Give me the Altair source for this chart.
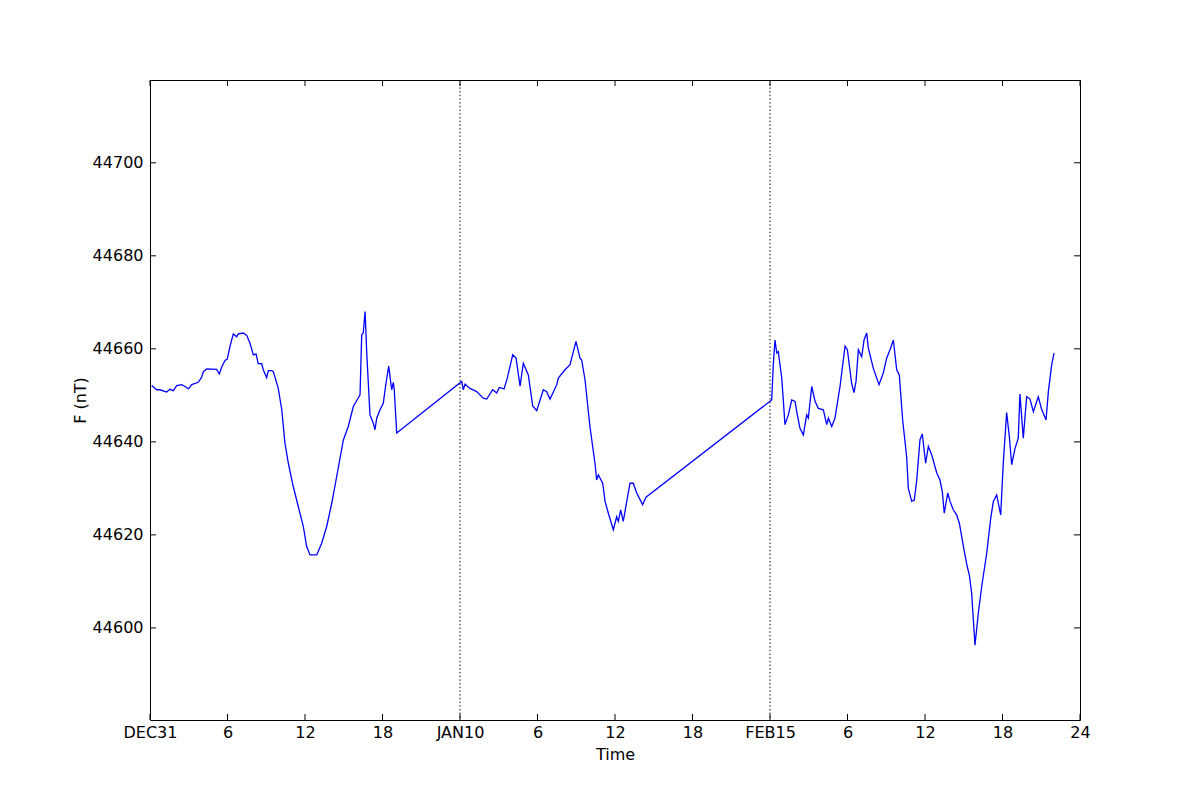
import altair as alt
import pandas as pd

# Hours since start of the plotted span (three 24 h windows) and total field F (nT)
hours = [
    0.13, 0.52, 0.77, 1.29, 1.55, 1.80, 2.07, 2.45, 2.71, 2.97, 3.23, 3.74, 4.00, 4.13, 4.39,
    5.16, 5.37, 5.55, 5.81, 5.98, 6.19, 6.45, 6.71, 6.84, 7.22, 7.49, 7.74, 8.00, 8.21, 8.38,
    8.65, 8.77, 9.03, 9.16, 9.42, 9.55, 9.93, 10.20, 10.45, 10.71, 11.09, 11.48, 11.87, 12.13,
    12.39, 12.91, 13.29, 13.68, 14.07, 14.45, 14.97, 15.35, 15.74, 16.26, 16.39, 16.51, 16.65,
    16.72, 16.78, 17.03, 17.29, 17.42, 17.55, 17.81, 18.06, 18.27, 18.48, 18.71, 18.84, 18.91,
    19.10,
    24.13, 24.26, 24.39, 24.77, 25.29, 25.80, 26.07, 26.53, 26.84, 27.04, 27.41, 27.66, 28.08,
    28.34, 28.65, 28.90, 29.29, 29.63, 29.94, 30.45, 30.71, 30.97, 31.49, 31.61, 32.13, 32.52,
    32.98, 33.29, 33.42, 33.68, 34.06, 34.45, 34.58, 34.71, 35.05, 35.23, 35.48, 35.87, 36.13,
    36.26, 36.44, 36.64, 36.91, 37.16, 37.42, 37.68, 38.14, 38.40,
    48.13, 48.26, 48.39, 48.52, 48.64, 48.91, 49.16, 49.42, 49.68, 49.94, 50.07, 50.32, 50.58,
    50.84, 50.97, 51.23, 51.49, 51.74, 52.13, 52.39, 52.52, 52.78, 53.03, 53.42, 53.81, 53.99,
    54.32, 54.50, 54.66, 54.84, 55.10, 55.28, 55.49, 55.61, 56.00, 56.44, 56.77, 57.03, 57.29,
    57.55, 57.81, 58.01, 58.27, 58.58, 58.71, 58.97, 59.17, 59.36, 59.61, 59.79, 60.05, 60.26,
    60.52, 60.91, 61.16, 61.34, 61.49, 61.76, 61.94, 62.19, 62.45, 62.66, 63.02, 63.27, 63.43,
    63.61, 63.87, 64.13, 64.39, 64.78, 65.09, 65.29, 65.55, 65.86, 66.06, 66.32, 66.53, 66.71,
    66.97, 67.22, 67.35, 67.61, 67.87, 68.13, 68.39, 68.77, 69.03, 69.37, 69.55, 69.81, 69.99,
]
field_nt = [
    44652.1, 44651.2, 44651.2, 44650.7, 44651.3, 44651.0, 44652.1, 44652.3, 44651.9, 44651.4,
    44652.3, 44652.8, 44653.9, 44655.1, 44655.7, 44655.6, 44654.6, 44656.1, 44657.5, 44657.8,
    44660.5, 44663.2, 44662.6, 44663.2, 44663.4, 44662.9, 44661.2, 44658.7, 44658.9, 44656.8,
    44656.8, 44655.5, 44653.8, 44655.3, 44655.3, 44655.1, 44651.5, 44646.9, 44639.7, 44635.4,
    44630.4, 44626.1, 44621.8, 44617.5, 44615.7, 44615.7, 44618.2, 44621.8, 44626.8, 44632.5,
    44640.4, 44643.3, 44647.6, 44650.1, 44663.0, 44663.4, 44668.0, 44663.4, 44659.1, 44645.8,
    44644.0, 44642.6, 44645.1, 44646.9, 44648.3, 44652.6, 44656.3, 44651.2, 44652.8, 44651.2,
    44641.9,
    44653.0, 44651.2, 44652.4, 44651.5, 44650.8, 44649.4, 44649.2, 44651.2, 44650.5, 44651.7,
    44651.4, 44653.7, 44658.7, 44658.0, 44652.0, 44656.9, 44654.4, 44647.7, 44646.7, 44651.2,
    44650.8, 44649.2, 44652.3, 44653.7, 44655.5, 44656.6, 44661.6, 44658.0, 44657.6, 44653.3,
    44643.3, 44635.4, 44631.8, 44632.9, 44631.1, 44627.2, 44624.7, 44621.1, 44623.9, 44622.9,
    44625.4, 44622.9, 44627.2, 44631.1, 44631.1, 44629.0, 44626.5, 44628.1,
    44649.0, 44656.9, 44661.9, 44659.1, 44659.4, 44653.7, 44643.7, 44645.8, 44649.0, 44648.7,
    44646.5, 44642.9, 44641.5, 44645.8, 44645.1, 44651.9, 44648.7, 44647.2, 44646.9, 44643.7,
    44645.1, 44643.3, 44645.1, 44651.9, 44660.6, 44659.8, 44652.6, 44650.6, 44653.0, 44659.8,
    44658.3, 44661.9, 44663.4, 44660.2, 44655.8, 44652.3, 44654.8, 44658.0, 44659.8, 44661.9,
    44655.5, 44654.4, 44644.7, 44636.8, 44630.0, 44627.2, 44627.5, 44631.8, 44640.4, 44641.7,
    44635.4, 44639.0, 44637.2, 44633.3, 44631.8, 44629.3, 44624.7, 44629.0, 44627.2, 44625.4,
    44624.3, 44622.5, 44616.8, 44613.2, 44611.4, 44607.5, 44596.3, 44603.2, 44608.9, 44616.1,
    44623.6, 44627.2, 44628.6, 44624.3, 44635.4, 44646.3, 44641.1, 44635.1, 44638.6, 44640.8,
    44650.3, 44640.8, 44649.7, 44649.2, 44646.5, 44649.7, 44647.0, 44644.7, 44650.8, 44656.6,
    44659.1,
]

tick_hours = [0, 6, 12, 18, 24, 30, 36, 42, 48, 54, 60, 66, 72]
tick_labels = ["DEC31", "6", "12", "18", "JAN10", "6", "12", "18", "FEB15", "6", "12", "18", "24"]
day_breaks = [24, 48]
y_ticks = [44600, 44620, 44640, 44660, 44680, 44700]
y_domain = [44580.2, 44717.8]
x_domain = [0, 72]

W, H = 930, 640
TICK = 6
FONT = "DejaVu Sans"

df = pd.DataFrame({"h": hours, "F": field_nt})
xt = pd.DataFrame({"h": tick_hours})
yt = pd.DataFrame({"F": y_ticks})
brk = pd.DataFrame({"h": day_breaks})

label_expr = "[" + ",".join("'" + s + "'" for s in tick_labels) + "][round(datum.value / 6)]"

xscale = alt.Scale(domain=x_domain, nice=False, zero=False)
yscale = alt.Scale(domain=y_domain, nice=False, zero=False)

x_axis = alt.Axis(values=tick_hours, labelExpr=label_expr, ticks=False, domain=False,
                  grid=False, labelBaseline="alphabetic", labelPadding=17,
                  labelFontSize=16, labelFont=FONT, labelColor="black",
                  title="Time", titleFont=FONT, titleFontSize=16,
                  titleFontWeight="normal", titleColor="black",
                  titleBaseline="alphabetic", titleY=39, labelFlush=False,
                  labelOverlap=False)
y_axis = alt.Axis(values=y_ticks, format="d", ticks=False, domain=False, grid=False,
                  labelPadding=7, labelFontSize=16, labelFont=FONT,
                  labelColor="black", title="F (nT)", titleFont=FONT,
                  titleFontSize=16, titleFontWeight="normal", titleColor="black",
                  titleBaseline="alphabetic", titleX=-65, titleY=H / 2,
                  titleAngle=270, titleAlign="center", labelFlush=False,
                  labelOverlap=False)

X = alt.X("h:Q", scale=xscale, axis=x_axis)
Y = alt.Y("F:Q", scale=yscale, axis=y_axis)

line = alt.Chart(df).mark_line(color="#0000ff", strokeWidth=1.3).encode(x=X, y=Y)

breaks = alt.Chart(brk).mark_rule(color="black", strokeWidth=1, strokeDash=[1.4, 2.3]).encode(x=X)

xt_bottom = alt.Chart(xt).mark_rule(color="black", strokeWidth=1).encode(
    x=X, y=alt.value(H), y2=alt.value(H - TICK))
xt_top = alt.Chart(xt).mark_rule(color="black", strokeWidth=1).encode(
    x=X, y=alt.value(0), y2=alt.value(TICK))
yt_left = alt.Chart(yt).mark_rule(color="black", strokeWidth=1).encode(
    y=Y, x=alt.value(0), x2=alt.value(TICK))
yt_right = alt.Chart(yt).mark_rule(color="black", strokeWidth=1).encode(
    y=Y, x=alt.value(W - TICK), x2=alt.value(W))

chart = alt.layer(line, breaks, xt_bottom, xt_top, yt_left, yt_right).properties(
    width=W, height=H,
    padding={"left": 142, "top": 72, "right": 20, "bottom": 60},
    autosize=alt.AutoSizeParams(type="none"),
    background="white",
).configure_view(stroke="black", strokeWidth=1)

chart.save("out.html", embed_options={"renderer": "svg", "actions": False})
